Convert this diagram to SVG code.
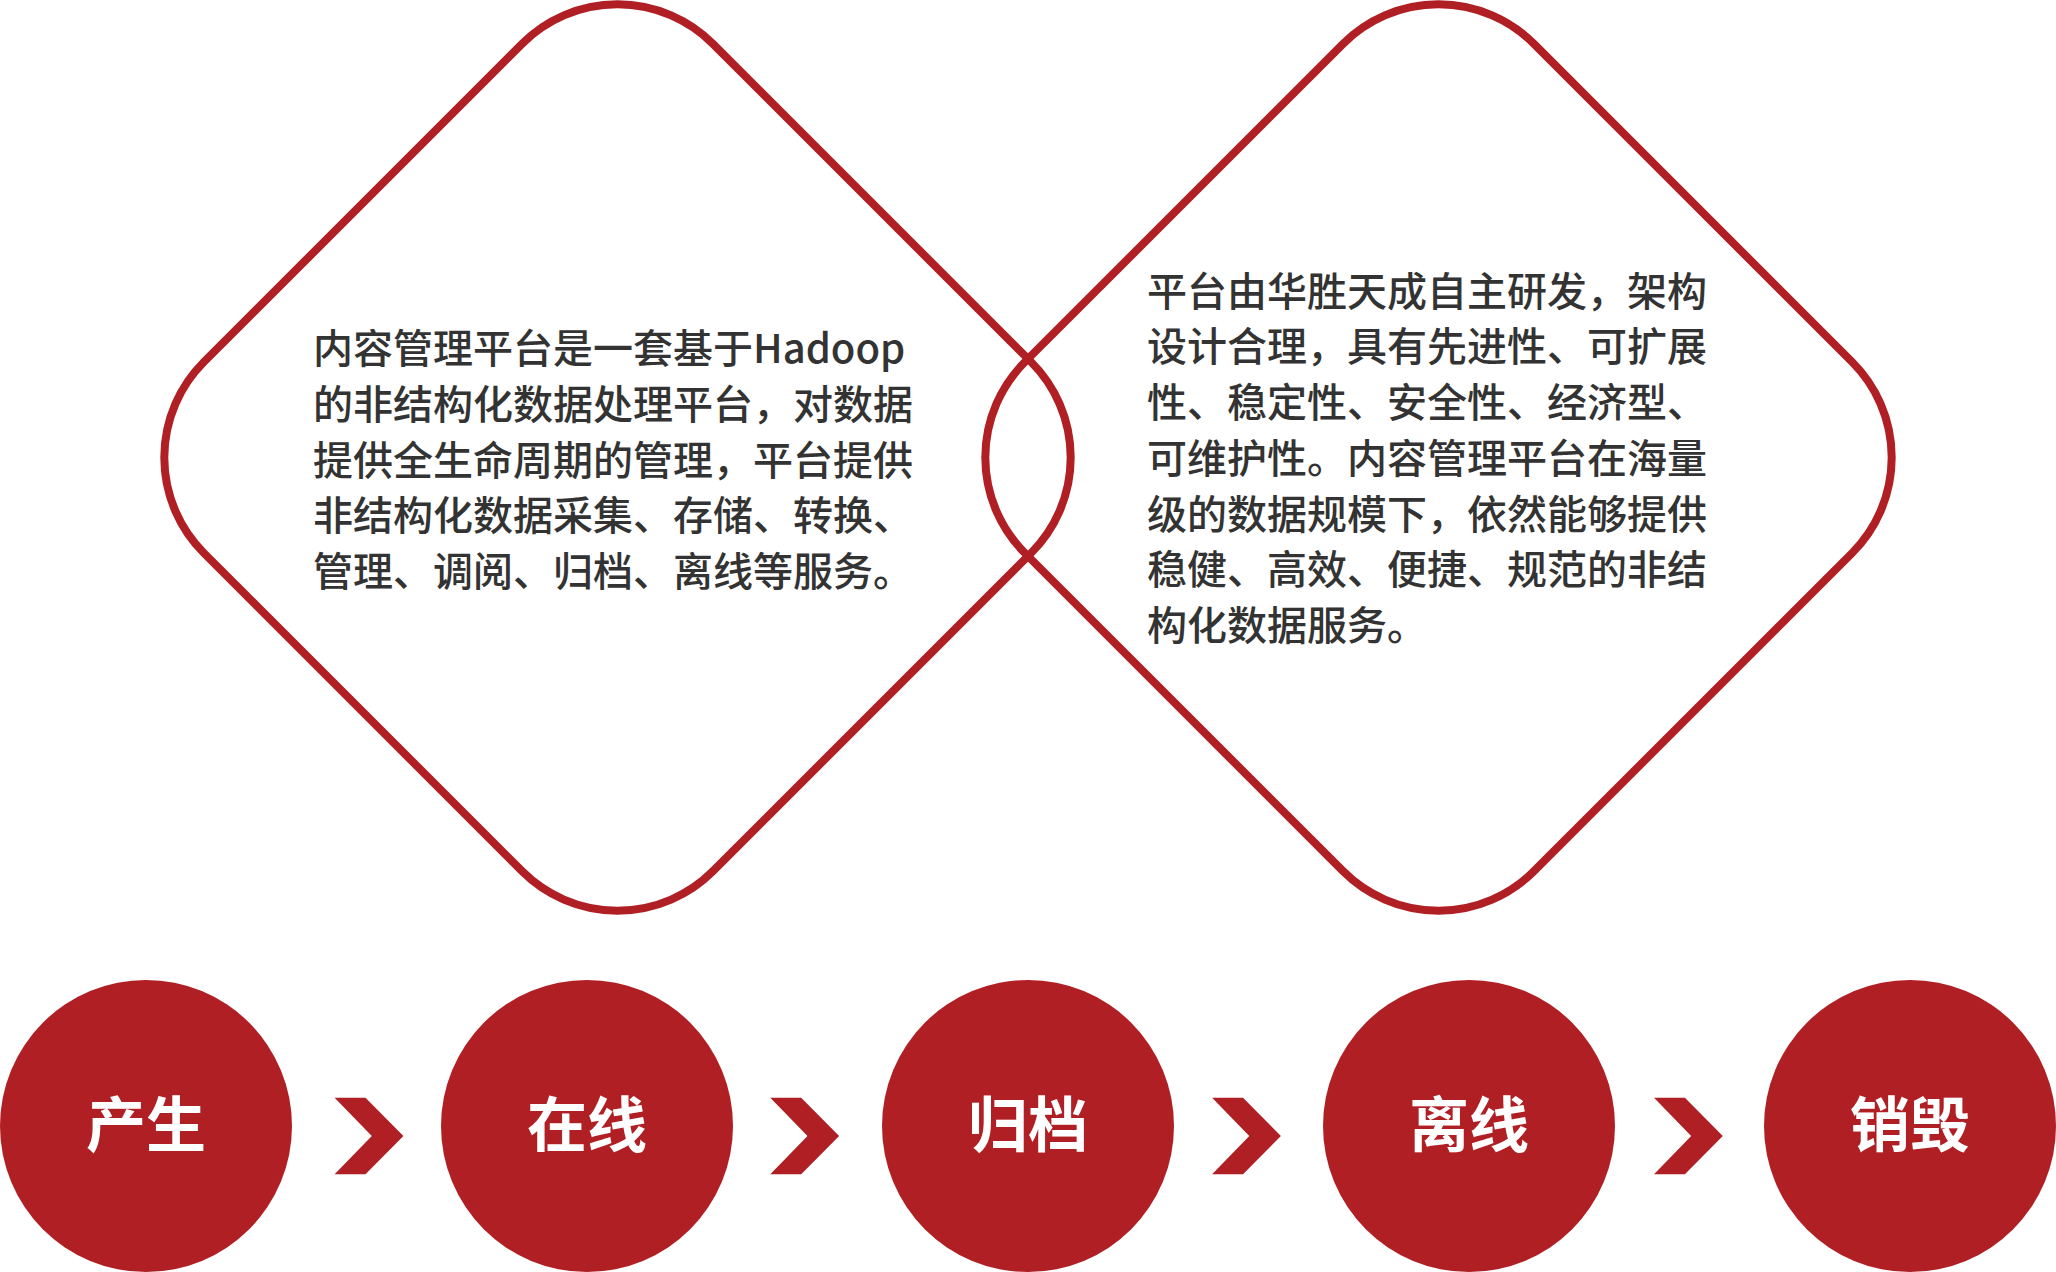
<svg xmlns="http://www.w3.org/2000/svg" width="2056" height="1272" viewBox="0 0 2056 1272">
<style>
.dia{fill:none;stroke:#B01F24;stroke-width:8}
.body{font-family:"Noto Sans CJK SC","Noto Sans",sans-serif;font-size:40px;font-weight:500;fill:#333333}
.circ{fill:#B01F24}
.lbl{font-family:"Noto Sans CJK SC","Noto Sans",sans-serif;font-size:60px;font-weight:700;fill:#FFFFFF;text-anchor:middle}
.chev{fill:#B01F24}
</style>
<rect width="2056" height="1272" fill="#FFFFFF"/>
<g id="diamond-left">
<rect class="dia" x="-360" y="-360" width="720" height="720" rx="135" ry="135" transform="translate(617.5 457.5) rotate(45)"/>
<text class="body" x="313" y="363">内容管理平台是一套基于Hadoop</text>
<text class="body" x="313" y="419">的非结构化数据处理平台，对数据</text>
<text class="body" x="313" y="474.5">提供全生命周期的管理，平台提供</text>
<text class="body" x="313" y="530">非结构化数据采集、存储、转换、</text>
<text class="body" x="313" y="586">管理、调阅、归档、离线等服务。</text>
</g>
<g id="diamond-right">
<rect class="dia" x="-360" y="-360" width="720" height="720" rx="135" ry="135" transform="translate(1438.5 457.5) rotate(45)"/>
<text class="body" x="1147" y="305.5">平台由华胜天成自主研发，架构</text>
<text class="body" x="1147" y="361">设计合理，具有先进性、可扩展</text>
<text class="body" x="1147" y="417">性、稳定性、安全性、经济型、</text>
<text class="body" x="1147" y="473">可维护性。内容管理平台在海量</text>
<text class="body" x="1147" y="528.5">级的数据规模下，依然能够提供</text>
<text class="body" x="1147" y="584">稳健、高效、便捷、规范的非结</text>
<text class="body" x="1147" y="640">构化数据服务。</text>
</g>
<g id="node-chansheng">
<circle class="circ" cx="146" cy="1126" r="146"/>
<text class="lbl" x="146" y="1147">产生</text>
</g>
<g id="node-zaixian">
<circle class="circ" cx="587" cy="1126" r="146"/>
<text class="lbl" x="587" y="1147">在线</text>
</g>
<g id="node-guidang">
<circle class="circ" cx="1028" cy="1126" r="146"/>
<text class="lbl" x="1028" y="1147">归档</text>
</g>
<g id="node-lixian">
<circle class="circ" cx="1469" cy="1126" r="146"/>
<text class="lbl" x="1469" y="1147">离线</text>
</g>
<g id="node-xiaohui">
<circle class="circ" cx="1910" cy="1126" r="146"/>
<text class="lbl" x="1910" y="1147">销毁</text>
</g>
<g id="connectors">
<polygon class="chev" points="334.6,1097.7 365.5,1097.7 403.4,1136 365.5,1174.3 334.6,1174.3 371.8,1136"/>
<polygon class="chev" points="770.3,1097.7 801.2,1097.7 839.1,1136 801.2,1174.3 770.3,1174.3 807.5,1136"/>
<polygon class="chev" points="1212.1,1097.7 1243,1097.7 1280.9,1136 1243,1174.3 1212.1,1174.3 1249.3,1136"/>
<polygon class="chev" points="1654,1097.7 1684.9,1097.7 1722.8,1136 1684.9,1174.3 1654,1174.3 1691.2,1136"/>
</g>
</svg>
